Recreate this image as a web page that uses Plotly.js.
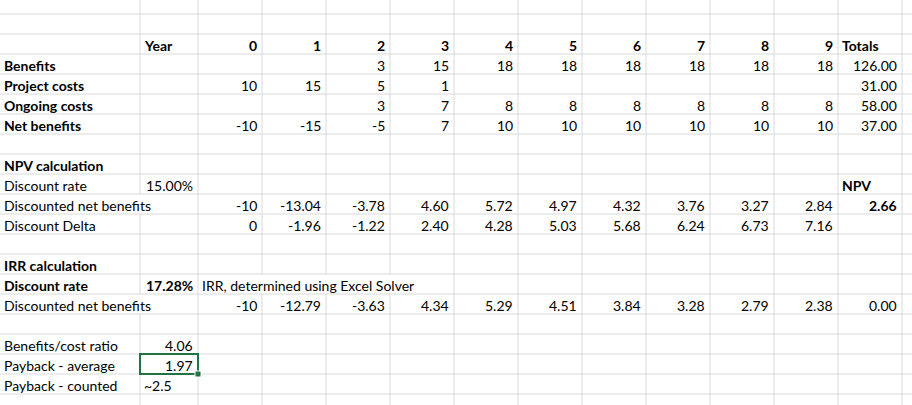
<!DOCTYPE html>
<html><head><meta charset="utf-8">
<script src="https://cdn.plot.ly/plotly-3.0.1.min.js"></script>
<style>html,body{margin:0;padding:0;background:#fff}</style>
</head><body><div id="c" style="width:912px;height:405px"></div>
<script>
const years = ['0','1','2','3','4','5','6','7','8','9'];
const benefits = ['','','3','15','18','18','18','18','18','18'];
const projectCosts = ['10','15','5','1','','','','','',''];
const ongoingCosts = ['','','3','7','8','8','8','8','8','8'];
const netBenefits = ['-10','-15','-5','7','10','10','10','10','10','10'];
const totals = ['126.00','31.00','58.00','37.00'];
const discNpv = ['-10','-13.04','-3.78','4.60','5.72','4.97','4.32','3.76','3.27','2.84'];
const discDelta = ['0','-1.96','-1.22','2.40','4.28','5.03','5.68','6.24','6.73','7.16'];
const discIrr = ['-10','-12.79','-3.63','4.34','5.29','4.51','3.84','3.28','2.79','2.38'];
const npvValue = '2.66', irrTotal = '0.00';
const discountRate = '15.00%', irrRate = '17.28%';
const bcRatio = '4.06', paybackAvg = '1.97', paybackCounted = '~2.5';

const colEdges = [0,140,198,262,326,390,454,518,582,646,710,774,838,902,966];
const rowTop = -6, rowH = 20, nRows = 21;
const ann = [];
function rowY(r){return rowTop + rowH*r + rowH/2 + 1;}
function L(r,c,t,b){ann.push({x:colEdges[c]+2,y:rowY(r),text:b?'<b>'+t+'</b>':t,xanchor:'left'});}
function R(r,c,t,b){ann.push({x:colEdges[c+1]-3,y:rowY(r),text:b?'<b>'+t+'</b>':t,xanchor:'right'});}
// hidden vertical lines: [row, edgeIndex]
const hidden = {'10':[1],'15':[1],'14':[3,4,5]};

L(2,1,'Year',true); years.forEach((v,i)=>R(2,i+2,v,true)); L(2,12,'Totals',true);
const rows = [['Benefits',benefits],['Project costs',projectCosts],['Ongoing costs',ongoingCosts],['Net benefits',netBenefits]];
rows.forEach((rw,k)=>{L(3+k,0,rw[0],true); rw[1].forEach((v,i)=>{if(v)R(3+k,i+2,v);}); R(3+k,12,totals[k]);});
L(8,0,'NPV calculation',true);
L(9,0,'Discount rate'); R(9,1,discountRate); L(9,12,'NPV',true);
L(10,0,'Discounted net benefits'); discNpv.forEach((v,i)=>R(10,i+2,v)); R(10,12,npvValue,true);
L(11,0,'Discount Delta'); discDelta.forEach((v,i)=>R(11,i+2,v));
L(13,0,'IRR calculation',true);
L(14,0,'Discount rate',true); R(14,1,irrRate,true); L(14,2,'IRR, determined using Excel Solver');
L(15,0,'Discounted net benefits'); discIrr.forEach((v,i)=>R(15,i+2,v)); R(15,12,irrTotal);
L(17,0,'Benefits/cost ratio'); R(17,1,bcRatio);
L(18,0,'Payback - average'); R(18,1,paybackAvg);
L(19,0,'Payback - counted'); L(19,1,paybackCounted);

const shapes = [];
const gc = '#d9d9d9';
for(let r=0;r<nRows;r++){
  const y0=rowTop+rowH*r, y1=y0+rowH;
  shapes.push({type:'line',x0:0,x1:912,y0:y1,y1:y1,line:{color:gc,width:1}});
  for(let e=1;e<colEdges.length;e++){
    if(hidden[r] && hidden[r].includes(e)) continue;
    shapes.push({type:'line',x0:colEdges[e],x1:colEdges[e],y0:y0,y1:y1,line:{color:gc,width:1}});
  }
}
const sy0=rowTop+rowH*18, sy1=sy0+rowH;
shapes.push({type:'rect',x0:colEdges[1],x1:colEdges[2],y0:sy0,y1:sy1,line:{color:'#217346',width:2}});
shapes.push({type:'rect',x0:colEdges[2]-3,x1:colEdges[2]+3,y0:sy1-3,y1:sy1+3,fillcolor:'#217346',line:{color:'#ffffff',width:1}});

ann.forEach(a=>{a.xref='x';a.yref='y';a.showarrow=false;a.yanchor='middle';a.font={family:'Lato, Open Sans, sans-serif',size:14,color:'#000'};});
Plotly.newPlot('c',[{x:[0],y:[0],mode:'markers',marker:{opacity:0},hoverinfo:'skip',showlegend:false}],{
  width:912,height:405,margin:{l:0,r:0,t:0,b:0},paper_bgcolor:'#fff',plot_bgcolor:'#fff',
  xaxis:{range:[0,912],visible:false,fixedrange:true},
  yaxis:{range:[405,0],visible:false,fixedrange:true},
  shapes:shapes,annotations:ann,showlegend:false
},{staticPlot:true});
</script></body></html>
